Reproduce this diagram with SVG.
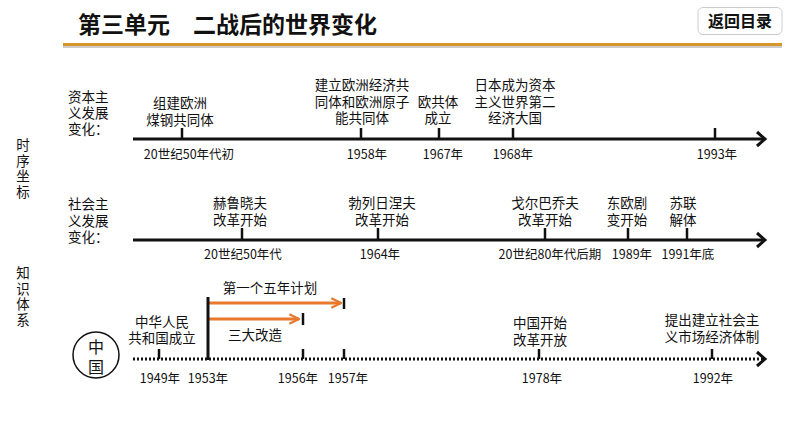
<svg xmlns="http://www.w3.org/2000/svg" width="794" height="447" viewBox="0 0 794 447">
<style>
text{font-family:"Noto Sans CJK SC","Noto Sans",sans-serif;fill:#111;}
.t{font-size:13.5px;text-anchor:middle;}
.l{font-size:13.5px;}
.d{font-size:12.5px;text-anchor:middle;}
.axis{stroke:#111;stroke-width:3;fill:none;}
.dot{stroke:#111;stroke-width:3;fill:none;stroke-dasharray:2 2;}
.tick{stroke:#111;stroke-width:2.5;}
.orange{stroke:#e8792d;stroke-width:3;fill:none;}
.head{stroke:#111;stroke-width:3;fill:none;}
</style>
<defs>
<marker id="oarr" viewBox="0 0 10 10" refX="9" refY="5" markerWidth="4" markerHeight="4" orient="auto" markerUnits="strokeWidth">
<path d="M1,1 L9,5 L1,9" fill="none" stroke="#e8792d" stroke-width="2"/>
</marker>
</defs>
<rect width="794" height="447" fill="#fff"/>
<g id="header">
<line x1="63" y1="47" x2="782" y2="47" stroke="#bbb" stroke-width="1.5"/>
<line x1="63" y1="44.5" x2="782" y2="44.5" stroke="#d6962b" stroke-width="3"/>
<text x="78" y="33" style="font-size:23px;font-weight:bold">第三单元　二战后的世界变化</text>
</g>
<g id="btn-back">
<rect x="698" y="7.5" width="84" height="27" rx="5" fill="#fff" stroke="#ccc" stroke-width="1"/>
<text x="740" y="27" style="font-size:16px;font-weight:bold;text-anchor:middle">返回目录</text>
</g>
<g id="side-labels">
<text class="t"><tspan x="23" y="150">时</tspan><tspan x="23" y="165.5">序</tspan><tspan x="23" y="181">坐</tspan><tspan x="23" y="196.5">标</tspan></text>
<text class="t"><tspan x="23" y="278">知</tspan><tspan x="23" y="293.5">识</tspan><tspan x="23" y="309">体</tspan><tspan x="23" y="324.5">系</tspan></text>
</g>
<g id="connectors">
<line class="axis" x1="133" y1="139" x2="764" y2="139"/>
<path class="head" d="M757,132 L765,139 L757,146"/>
<line class="axis" x1="133" y1="240" x2="764" y2="240"/>
<path class="head" d="M757,233 L765,240 L757,247"/>
<line class="dot" x1="133" y1="359" x2="764" y2="359"/>
<path class="head" d="M757,352 L765,359 L757,366"/>
<line class="orange" x1="209" y1="303" x2="341" y2="303" marker-end="url(#oarr)"/>
<line class="orange" x1="209" y1="319" x2="299" y2="319" marker-end="url(#oarr)"/>
</g>
<g id="row-capitalist">
<text class="l"><tspan x="68" y="102">资本主</tspan><tspan x="68" y="118">义发展</tspan><tspan x="68" y="134">变化：</tspan></text>
<line class="tick" x1="182" y1="128" x2="182" y2="139"/>
<line class="tick" x1="361" y1="128" x2="361" y2="139"/>
<line class="tick" x1="439" y1="128" x2="439" y2="139"/>
<line class="tick" x1="513" y1="128" x2="513" y2="139"/>
<line class="tick" x1="715" y1="128" x2="715" y2="139"/>
<text class="t"><tspan x="180" y="108">组建欧洲</tspan><tspan x="180" y="125">煤钢共同体</tspan></text>
<text class="t"><tspan x="362" y="90">建立欧洲经济共</tspan><tspan x="362" y="107">同体和欧洲原子</tspan><tspan x="362" y="123">能共同体</tspan></text>
<text class="t"><tspan x="438" y="107">欧共体</tspan><tspan x="438" y="123">成立</tspan></text>
<text class="t"><tspan x="515" y="90">日本成为资本</tspan><tspan x="515" y="107">主义世界第二</tspan><tspan x="515" y="123">经济大国</tspan></text>
<text class="d" x="189" y="159">20世纪50年代初</text>
<text class="d" x="367" y="159">1958年</text>
<text class="d" x="443" y="159">1967年</text>
<text class="d" x="513" y="159">1968年</text>
<text class="d" x="717" y="159">1993年</text>
</g>
<g id="row-socialist">
<text class="l"><tspan x="68" y="209">社会主</tspan><tspan x="68" y="226">义发展</tspan><tspan x="68" y="242">变化：</tspan></text>
<line class="tick" x1="242" y1="228" x2="242" y2="240"/>
<line class="tick" x1="378" y1="228" x2="378" y2="240"/>
<line class="tick" x1="545" y1="228" x2="545" y2="240"/>
<line class="tick" x1="628" y1="228" x2="628" y2="240"/>
<line class="tick" x1="687" y1="228" x2="687" y2="240"/>
<text class="t"><tspan x="240" y="208">赫鲁晓夫</tspan><tspan x="240" y="225">改革开始</tspan></text>
<text class="t"><tspan x="382" y="208">勃列日涅夫</tspan><tspan x="382" y="225">改革开始</tspan></text>
<text class="t"><tspan x="545" y="208">戈尔巴乔夫</tspan><tspan x="545" y="225">改革开始</tspan></text>
<text class="t"><tspan x="627" y="208">东欧剧</tspan><tspan x="627" y="225">变开始</tspan></text>
<text class="t"><tspan x="683" y="208">苏联</tspan><tspan x="683" y="225">解体</tspan></text>
<text class="d" x="243" y="259">20世纪50年代</text>
<text class="d" x="380" y="259">1964年</text>
<text class="d" x="550" y="259">20世纪80年代后期</text>
<text class="d" x="632" y="259">1989年</text>
<text class="d" x="688" y="259">1991年底</text>
</g>
<g id="row-china">
<circle cx="96" cy="355" r="23" fill="#fff" stroke="#111" stroke-width="1.5"/>
<text style="font-size:16px;text-anchor:middle"><tspan x="96" y="353">中</tspan><tspan x="96" y="373">国</tspan></text>
<line class="tick" x1="159" y1="349" x2="159" y2="359"/>
<line x1="208" y1="297" x2="208" y2="360" stroke="#111" stroke-width="3"/>
<line class="tick" x1="303" y1="349" x2="303" y2="359"/>
<line class="tick" x1="344" y1="349" x2="344" y2="359"/>
<line class="tick" x1="539" y1="349" x2="539" y2="359"/>
<line class="tick" x1="712" y1="349" x2="712" y2="359"/>
<line class="tick" x1="344" y1="298" x2="344" y2="309"/>
<line class="tick" x1="303" y1="313" x2="303" y2="325"/>
<text class="t" x="270" y="293">第一个五年计划</text>
<text class="t" x="255" y="340">三大改造</text>
<text class="t"><tspan x="162" y="327">中华人民</tspan><tspan x="162" y="343">共和国成立</tspan></text>
<text class="t"><tspan x="540" y="328">中国开始</tspan><tspan x="540" y="345">改革开放</tspan></text>
<text class="t"><tspan x="712" y="325">提出建立社会主</tspan><tspan x="712" y="342">义市场经济体制</tspan></text>
<text class="d" x="160" y="383">1949年</text>
<text class="d" x="208" y="383">1953年</text>
<text class="d" x="298" y="383">1956年</text>
<text class="d" x="348" y="383">1957年</text>
<text class="d" x="542" y="383">1978年</text>
<text class="d" x="713" y="383">1992年</text>
</g>
</svg>
